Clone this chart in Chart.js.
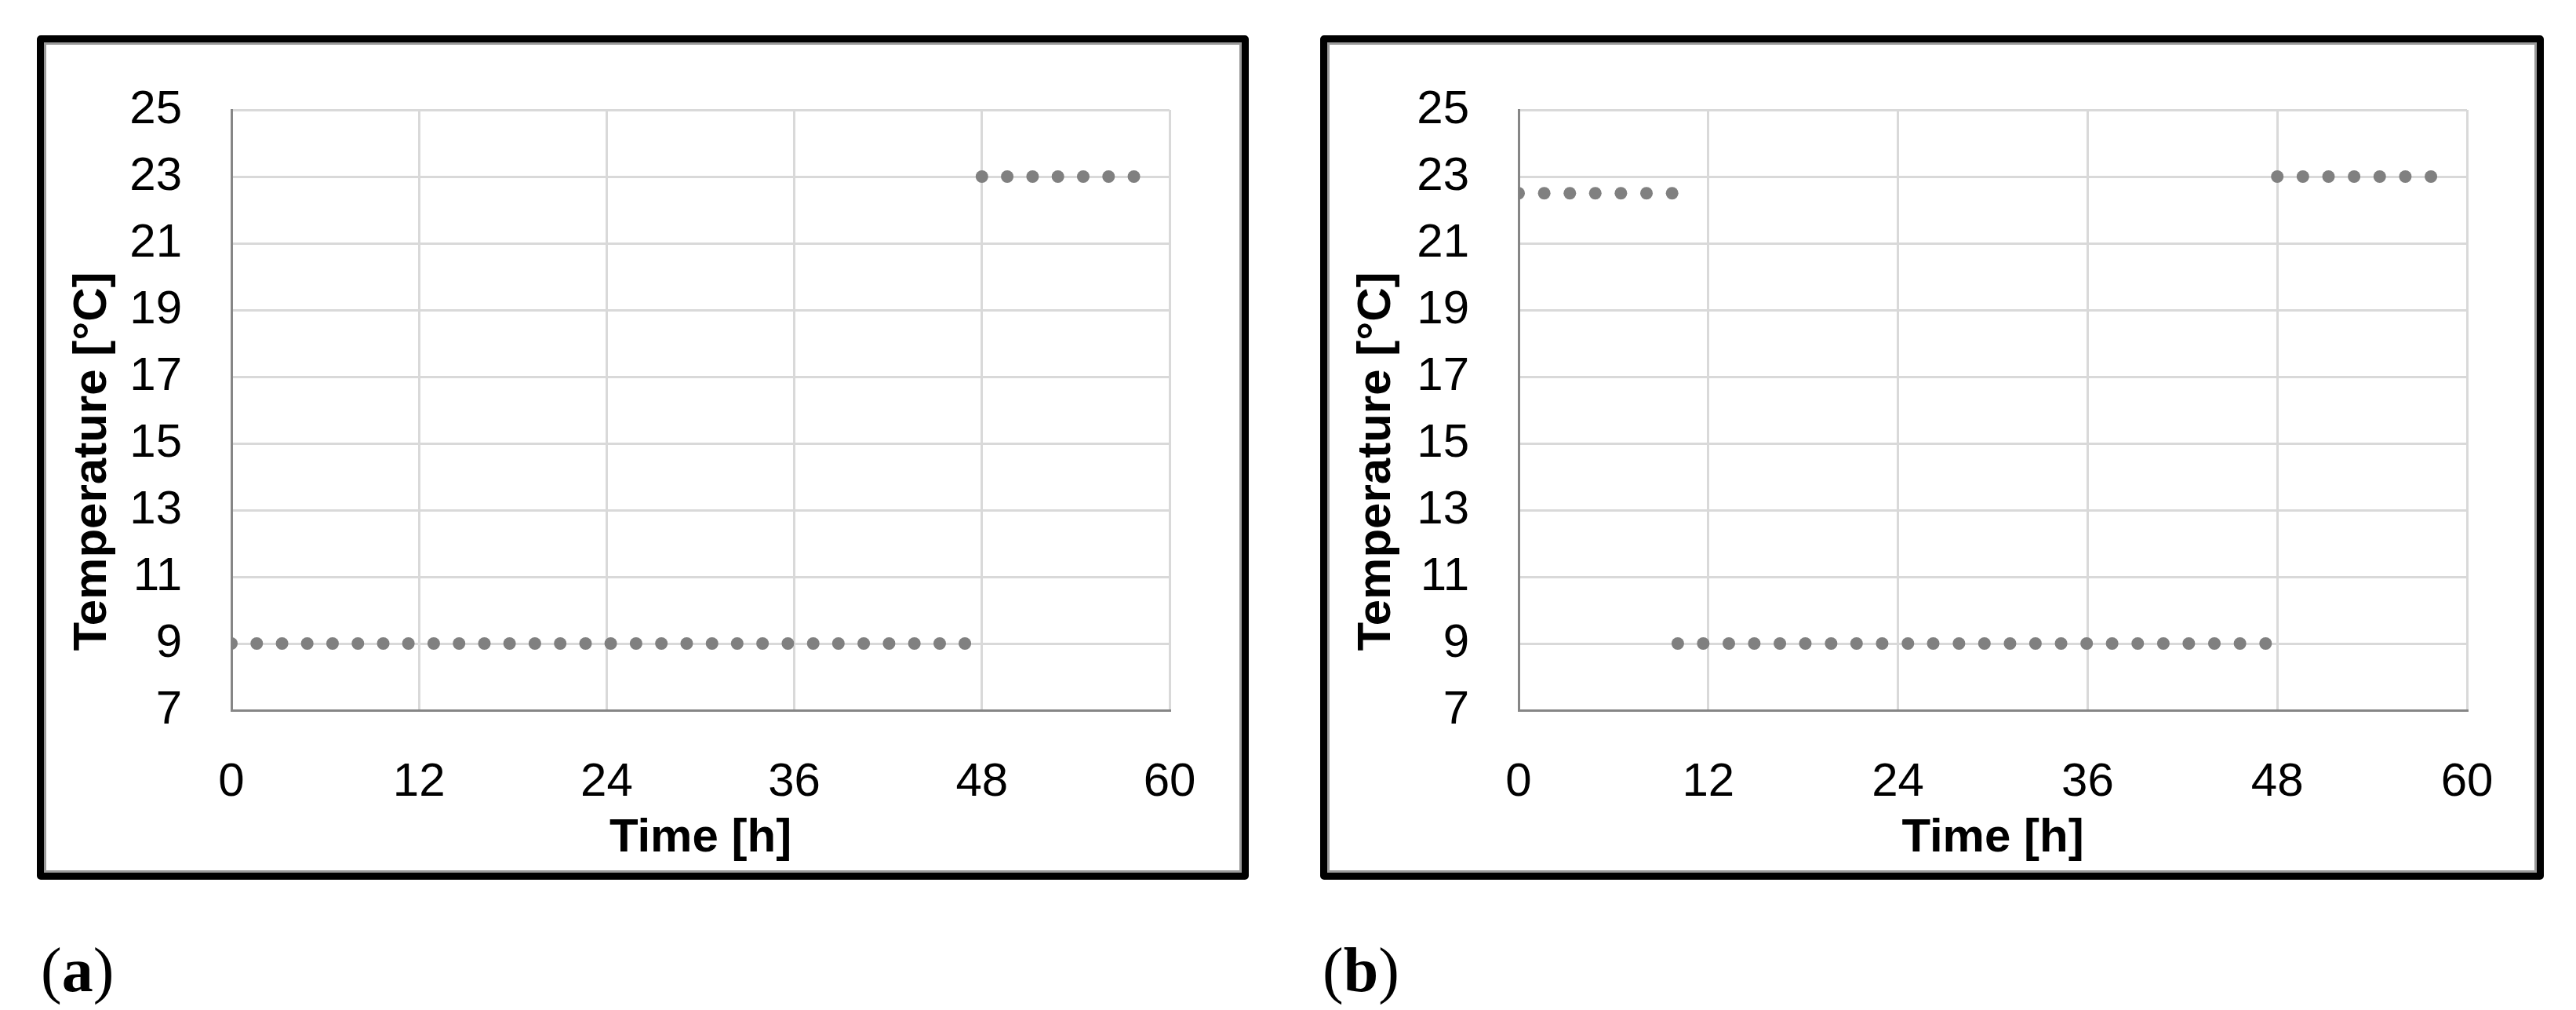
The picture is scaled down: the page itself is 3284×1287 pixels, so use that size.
<!DOCTYPE html>
<html>
<head>
<meta charset="utf-8">
<script src="https://cdn.jsdelivr.net/npm/chart.js@4.4.1/dist/chart.umd.min.js"></script>
<style>
  body { margin: 0; background: #fff; width: 3284px; height: 1287px; position: relative; overflow: hidden; }
  .frame { position: absolute; box-sizing: border-box; border: 9px solid #000; border-radius: 5px; box-shadow: inset 0 0 0 3px #9a9a9a; }
  canvas { position: absolute; top: 0; }
  .tag { position: absolute; font-family: 'Liberation Serif', 'DejaVu Serif', serif; font-size: 80px; line-height: 80px; color: #000; }
  .tag b { font-weight: bold; }
</style>
</head>
<body>
<div class="frame" style="left:47px; top:45px; width:1545px; height:1076px;"></div>
<div class="frame" style="left:1683px; top:45px; width:1560px; height:1076px;"></div>
<canvas id="chartA" width="1640" height="1140" style="left:0px;"></canvas>
<canvas id="chartB" width="1644" height="1140" style="left:1640px;"></canvas>
<div class="tag" style="left:52px; top:1196px;">(<b>a</b>)</div>
<div class="tag" style="left:1686px; top:1196px;">(<b>b</b>)</div>
<script>
// values
var timeA_low = [0, 1.62, 3.24, 4.85, 6.47, 8.09, 9.71, 11.32, 12.94, 14.56, 16.18, 17.79, 19.41, 21.03, 22.65,
    24.26, 25.88, 27.5, 29.12, 30.74, 32.35, 33.97, 35.59, 37.21, 38.82, 40.44, 42.06, 43.68, 45.3, 46.91];
var tempA_low = [9, 9, 9, 9, 9, 9, 9, 9, 9, 9, 9, 9, 9, 9, 9, 9, 9, 9, 9, 9, 9, 9, 9, 9, 9, 9, 9, 9, 9, 9];
var timeA_high = [48, 49.62, 51.24, 52.86, 54.48, 56.1, 57.72];
var tempA_high = [23, 23, 23, 23, 23, 23, 23];

var timeB_start = [0, 1.62, 3.24, 4.85, 6.47, 8.09, 9.71];
var tempB_start = [22.5, 22.5, 22.5, 22.5, 22.5, 22.5, 22.5];
var timeB_low = [10.07, 11.68, 13.3, 14.91, 16.53, 18.14, 19.77, 21.38, 23.0, 24.63, 26.23, 27.86, 29.47, 31.09,
    32.7, 34.32, 35.94, 37.55, 39.17, 40.79, 42.4, 44.02, 45.64, 47.26];
var tempB_low = [9, 9, 9, 9, 9, 9, 9, 9, 9, 9, 9, 9, 9, 9, 9, 9, 9, 9, 9, 9, 9, 9, 9, 9];
var timeB_high = [48, 49.62, 51.24, 52.86, 54.48, 56.1, 57.72];
var tempB_high = [23, 23, 23, 23, 23, 23, 23];

var xTicks = [0, 12, 24, 36, 48, 60];
var yTicks = [7, 9, 11, 13, 15, 17, 19, 21, 23, 25];

var xTitle = 'Time [h]';
var yTitle = 'Temperature [°C]';

var fontFamily = "'Liberation Sans Narrow', 'Arial Narrow', 'Liberation Sans', sans-serif";
var dotColor = '#808080';

function points(xs, ys) {
    var out = [];
    for (var i = 0; i < xs.length; i++) out.push({ x: xs[i], y: ys[i] });
    return out;
}

function series(xs, ys) {
    return {
        data: points(xs, ys),
        showLine: false,
        pointRadius: 8,
        pointHoverRadius: 8,
        pointBackgroundColor: dotColor,
        pointBorderWidth: 0,
        borderColor: dotColor
    };
}

// the y title sits lower than the middle of the axis in the original, so draw it here
var yTitlePlugin = {
    id: 'yTitleOffset',
    afterDraw: function (chart, args, opts) {
        var ctx = chart.ctx;
        ctx.save();
        ctx.translate(opts.x, opts.y);
        ctx.rotate(-Math.PI / 2);
        ctx.font = 'bold 60px ' + fontFamily;
        ctx.fillStyle = '#000';
        ctx.textAlign = 'center';
        ctx.textBaseline = 'middle';
        ctx.fillText(yTitle, 0, 0);
        ctx.restore();
    }
};

function makeChart(id, datasets, pad, yWidth, xHeight, titlePos) {
    var ctx = document.getElementById(id).getContext('2d');
    return new Chart(ctx, {
        type: 'scatter',
        data: { datasets: datasets },
        plugins: [yTitlePlugin],
        options: {
            responsive: false,
            animation: false,
            devicePixelRatio: 1,
            layout: { padding: pad },
            plugins: {
                legend: { display: false },
                tooltip: { enabled: false },
                yTitleOffset: titlePos
            },
            scales: {
                x: {
                    type: 'linear',
                    min: xTicks[0],
                    max: xTicks[xTicks.length - 1],
                    afterBuildTicks: function (scale) {
                        scale.ticks = xTicks.map(function (v) { return { value: v }; });
                    },
                    afterFit: function (scale) { scale.height = xHeight; },
                    grid: { color: '#d9d9d9', lineWidth: 3, drawTicks: false },
                    border: { color: '#868686', width: 3 },
                    ticks: { color: '#000', padding: 56, maxRotation: 0, font: { family: fontFamily, size: 60 } },
                    title: { display: true, text: xTitle, color: '#000', padding: 0,
                        font: { family: fontFamily, size: 60, weight: 'bold' } }
                },
                y: {
                    type: 'linear',
                    min: yTicks[0],
                    max: yTicks[yTicks.length - 1],
                    afterBuildTicks: function (scale) {
                        scale.ticks = yTicks.map(function (v) { return { value: v }; });
                    },
                    afterFit: function (scale) { scale.width = yWidth; },
                    grid: { color: '#d9d9d9', lineWidth: 3, drawTicks: false },
                    border: { color: '#868686', width: 3 },
                    ticks: { color: '#000', padding: 63, font: { family: fontFamily, size: 60 } },
                    title: { display: false }
                }
            }
        }
    });
}

makeChart('chartA',
    [series(timeA_low, tempA_low), series(timeA_high, tempA_high)],
    { left: 82, top: 140, right: 149, bottom: 36 }, 213, 199, { x: 118, y: 588 });

makeChart('chartB',
    [series(timeB_start, tempB_start), series(timeB_low, tempB_low), series(timeB_high, tempB_high)],
    { left: 79, top: 140, right: 139, bottom: 36 }, 217, 199, { x: 115, y: 588 });
</script>
</body>
</html>
